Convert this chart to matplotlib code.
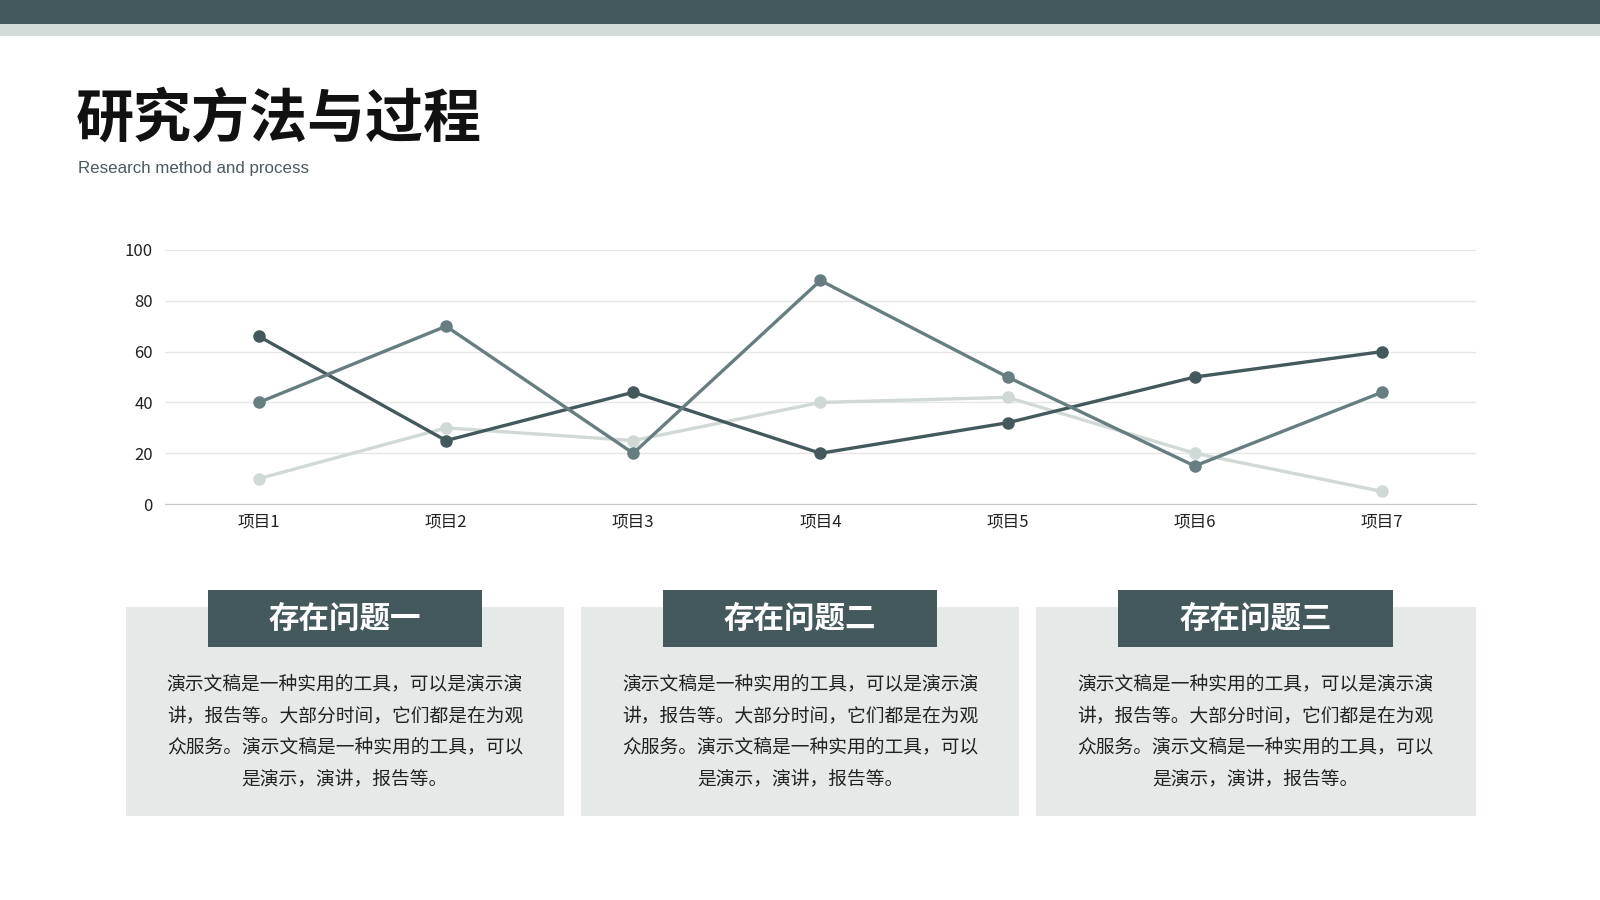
import matplotlib.pyplot as plt
from matplotlib.patches import Rectangle

plt.rcParams['font.family'] = ['Noto Sans CJK SC', 'DejaVu Sans']

# 数据
categories = ['项目1', '项目2', '项目3', '项目4', '项目5', '项目6', '项目7']
series_a = [66, 25, 44, 20, 32, 50, 60]
series_b = [40, 70, 20, 88, 50, 15, 44]
series_c = [10, 30, 25, 40, 42, 20, 5]
y_ticks = [0, 20, 40, 60, 80, 100]

title = '研究方法与过程'
subtitle = 'Research method and process'
box_titles = ['存在问题一', '存在问题二', '存在问题三']
box_text = ['演示文稿是一种实用的工具，可以是演示演',
            '讲，报告等。大部分时间，它们都是在为观',
            '众服务。演示文稿是一种实用的工具，可以',
            '是演示，演讲，报告等。']

DARK = '#43595c'
MID = '#677e80'
LIGHT = '#d0d9d5'
PANEL = '#e5e9e7'

W, H = 1568.0, 882.0


def fx(x):
    return x / W


def fy(y):
    return 1 - y / H


def rect(fig, x0, y0, x1, y1, color):
    # 像素坐标 -> 图坐标
    fig.patches.append(Rectangle((fx(x0), fy(y1)), fx(x1) - fx(x0), fy(y0) - fy(y1),
                                 transform=fig.transFigure, color=color, zorder=0, lw=0))


fig = plt.figure(figsize=(16, 9), dpi=100)
fig.patch.set_facecolor('white')

# 顶部色条
rect(fig, 0, 0, W, 24, DARK)
rect(fig, 0, 24, W, 35, '#d3dcd9')

fig.text(fx(74), fy(117), title, fontsize=41.8, fontweight='black', color='#111111',
         va='center', ha='left')
fig.text(fx(76), fy(165), subtitle, fontsize=12.2, color='#4a5a5e', va='center', ha='left',
         family=['Liberation Sans', 'DejaVu Sans'])

# 折线图
ax = fig.add_axes([fx(162), fy(494), fx(1446) - fx(162), fy(245) - fy(494)])
x = list(range(len(categories)))
ax.plot(x, series_a, color=DARK, lw=2.4, marker='o', ms=8, zorder=3)
ax.plot(x, series_b, color=MID, lw=2.4, marker='o', ms=8, zorder=4)
ax.plot(x, series_c, color=LIGHT, lw=2.4, marker='o', ms=8, zorder=2)
ax.set_xlim(-0.5, 6.5)
ax.set_ylim(0, 100)
ax.set_xticks(x)
ax.set_xticklabels(categories)
ax.set_yticks(y_ticks)
ax.grid(axis='y', color='#e6e6e6', lw=1)
ax.set_axisbelow(True)
for s in ['top', 'right', 'left']:
    ax.spines[s].set_visible(False)
ax.spines['bottom'].set_color('#c8c8c8')
ax.tick_params(axis='both', length=0, labelsize=12, colors='#222222')
ax.tick_params(axis='x', pad=7)
ax.tick_params(axis='y', pad=9)
ax.patch.set_alpha(0)

# 底部三个文本框
panels = [(123, 553), (569, 999), (1015, 1446)]
for (x0, x1), bt in zip(panels, box_titles):
    rect(fig, x0, 595, x1, 800, PANEL)
    cx = (x0 + x1) / 2
    rect(fig, cx - 134.5, 578, cx + 134.5, 634, DARK)
    fig.text(fx(cx), fy(607), bt, fontsize=22, fontweight='bold', color='white',
             ha='center', va='center')
    for i, line in enumerate(box_text):
        fig.text(fx(cx), fy(670 + 31 * i), line, fontsize=13.5, color='#222222',
                 ha='center', va='center')

fig.savefig('out.png', dpi=100)
